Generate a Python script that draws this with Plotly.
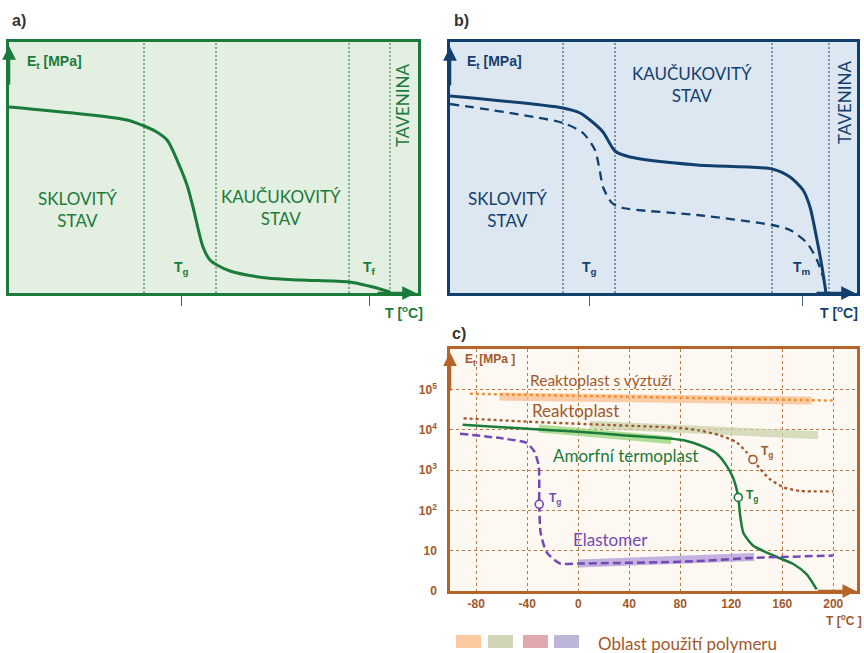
import plotly.graph_objects as go

W, H = 864, 653          # reference pixel grid used for placing things
H_LAYOUT = 660           # figure height in layout

# ---------------- Panel a (schematic, relative units) ----------------
a_T = [0, 118, 135, 146, 158, 171, 178, 184, 194, 201, 208, 221, 258, 291, 340, 360, 371, 381]
a_E = [186, 173, 167, 162, 153, 126, 108, 86, 46, 33, 28, 22, 15, 13, 11, 7, 4, 1]
a_bounds = [135, 207, 340, 381]
a_ticks = [172, 360]
a_tick_labels = ["T<sub>g</sub>", "T<sub>f</sub>"]

# ---------------- Panel b (schematic, relative units) ----------------
b_T_solid = [0, 113, 130, 140, 153, 165, 180, 247, 322, 340, 353, 360, 367, 372, 376]
b_E_solid = [197, 185, 180, 173, 161, 142, 136, 128, 124, 116, 103, 86, 53, 26, 0]
b_T_dash = [0, 113, 133, 145, 150, 153, 162, 173, 247, 322, 340, 357, 367, 374]
b_E_dash = [189, 170, 160, 143, 121, 106, 90, 85, 78, 68, 63, 50, 33, 13]
b_bounds = [113, 165, 322, 379]
b_ticks = [139, 352]
b_tick_labels = ["T<sub>g</sub>", "T<sub>m</sub>"]

# ---------------- Panel c (T in degC, E in MPa) ----------------
c_xticks = [-80, -40, 0, 40, 80, 120, 160, 200]
c_xticktext = ["-80", "-40", "0", "40", "80", "120", "160", "200"]
c_yticks = [1, 10, 100, 1000, 10000, 100000]
c_yticktext = ["0", "10", "10<sup>2</sup>", "10<sup>3</sup>", "10<sup>4</sup>", "10<sup>5</sup>"]

rv_T = [-85, 200]                 # Reaktoplast s vyztuzi
rv_E = [77600, 52500]
rv_band_T = [-62, 183]
rv_band_E = [66100, 52500]

r_T = [-90, -40, 20, 80, 95, 111, 124, 132, 137, 142.5, 150, 161, 174, 200]   # Reaktoplast
r_E = [19100, 15800, 13200, 11000, 9550, 7240, 4900, 2750, 1820, 1070, 603, 372, 302, 295]
r_band_T = [9, 188]
r_band_E = [13200, 7240]

am_T = [-90.7, -40, 0, 33, 72, 85, 95, 108, 116, 121.5, 125.5, 127, 129.5, 137, 153, 168.6, 179, 187]
am_E = [13200, 10500, 8910, 7410, 6030, 5250, 4170, 2630, 1320, 631, 209, 72.4, 27.5, 13.5, 7.59, 4.68, 2.63, 1.10]
am_band_T = [-31, 73]
am_band_E = [10700, 5500]

el_T = [-92.8, -58.8, -40.5, -34.5, -31, -30.6, -29.5, -24.8, -14.3, 0, 85, 137, 200]
el_E = [7940, 6030, 4680, 2880, 1260, 141, 27.5, 9.12, 4.8, 4.8, 5.37, 6.61, 7.59]
el_band_T = [0, 138]
el_band_E = [4.79, 6.92]

tg_T = [137, 125.5, -30.6]
tg_E = [1820, 209, 141]

legend_colors = ["#fac9a0", "#cfd5b6", "#dfa9ae", "#bdb6d8"]

# ---------------- colours ----------------
GA, GA_FILL = "#1a7b3a", "#e2efe1"
BB, BB_FILL = "#12406e", "#dde7f1"
BR, BR_FILL = "#b5652a", "#fdf9f2"
TXT_BR = "#a3572b"
GREEN_C = "#1a7b3a"
PURPLE = "#7448b4"
ORANGE = "#f0913a"
BROWN_DOT = "#a0582e"

SANS = "Lato"
BOLD = "Liberation Sans"


def px(x):
    return x / W


def py(y):
    return 1 - y / H


fig = go.Figure()

# ---- panel a traces
fig.add_trace(go.Scatter(x=a_T, y=a_E, mode="lines", line=dict(color=GA, width=3, shape="spline", smoothing=0.8),
                         xaxis="x", yaxis="y", hoverinfo="skip"))
# ---- panel b traces
fig.add_trace(go.Scatter(x=b_T_solid, y=b_E_solid, mode="lines",
                         line=dict(color=BB, width=3, shape="spline", smoothing=0.7),
                         xaxis="x2", yaxis="y2", hoverinfo="skip"))
fig.add_trace(go.Scatter(x=b_T_dash, y=b_E_dash, mode="lines",
                         line=dict(color=BB, width=2.3, dash="9px,6px", shape="spline", smoothing=0.7),
                         xaxis="x2", yaxis="y2", hoverinfo="skip"))

# ---- panel c bands
for bx, by, col in [(rv_band_T, rv_band_E, "rgba(249,190,140,0.75)"),
                    (r_band_T, r_band_E, "rgba(200,210,170,0.75)"),
                    (am_band_T, am_band_E, "rgba(150,212,120,0.75)"),
                    (el_band_T, el_band_E, "rgba(180,160,218,0.8)")]:
    fig.add_trace(go.Scatter(x=bx, y=by, mode="lines", line=dict(color=col, width=8),
                             xaxis="x3", yaxis="y3", hoverinfo="skip"))
# ---- panel c lines
fig.add_trace(go.Scatter(x=rv_T, y=rv_E, mode="lines", line=dict(color=ORANGE, width=2.5, dash="dot"),
                         xaxis="x3", yaxis="y3", hoverinfo="skip"))
fig.add_trace(go.Scatter(x=r_T, y=r_E, mode="lines",
                         line=dict(color=BROWN_DOT, width=2.3, dash="dot", shape="spline", smoothing=0.6),
                         xaxis="x3", yaxis="y3", hoverinfo="skip"))
fig.add_trace(go.Scatter(x=am_T, y=am_E, mode="lines",
                         line=dict(color=GREEN_C, width=2.5, shape="spline", smoothing=0.6),
                         xaxis="x3", yaxis="y3", hoverinfo="skip"))
fig.add_trace(go.Scatter(x=el_T, y=el_E, mode="lines",
                         line=dict(color=PURPLE, width=2.5, dash="8px,4px", shape="spline", smoothing=0.6),
                         xaxis="x3", yaxis="y3", hoverinfo="skip"))
fig.add_trace(go.Scatter(x=tg_T, y=tg_E, mode="markers",
                         marker=dict(size=8, color="#fdf9f2", symbol="circle",
                                     line=dict(color=[BROWN_DOT, GREEN_C, PURPLE], width=1.6)),
                         xaxis="x3", yaxis="y3", hoverinfo="skip"))

shapes = []
annotations = []

# panel fills
shapes.append(dict(type="rect", xref="x", yref="y", x0=0, x1=409, y0=0, y1=251,
                   fillcolor=GA_FILL, line=dict(width=0), layer="below"))
shapes.append(dict(type="rect", xref="x2", yref="y2", x0=0, x1=407, y0=0, y1=251,
                   fillcolor=BB_FILL, line=dict(width=0), layer="below"))
shapes.append(dict(type="rect", xref="x3 domain", yref="y3 domain", x0=0, x1=1, y0=0, y1=1,
                   fillcolor=BR_FILL, line=dict(width=0), layer="below"))

for xb in a_bounds:
    shapes.append(dict(type="line", xref="x", yref="y", x0=xb, x1=xb, y0=0, y1=251,
                       line=dict(color=GA, width=1, dash="2px,2px")))
for xb in b_bounds:
    shapes.append(dict(type="line", xref="x2", yref="y2", x0=xb, x1=xb, y0=0, y1=251,
                       line=dict(color=BB, width=1, dash="2px,2px")))

# legend swatches
sw_x = [456, 488, 523, 554]
for x0, col in zip(sw_x, legend_colors):
    shapes.append(dict(type="rect", xref="paper", yref="paper", x0=px(x0), x1=px(x0 + 25),
                       y0=py(648), y1=py(635), fillcolor=col, line=dict(width=0)))


def arrow(xref, yref, x, y, ax, ay, color):
    annotations.append(dict(xref=xref, yref=yref, x=x, y=y, ax=ax, ay=ay, text="", showarrow=True,
                            arrowhead=2, arrowsize=1.1, arrowwidth=2.5, arrowcolor=color))


arrow("x", "y", 0, 247, 0, 40, GA)
arrow("x", "y", 407, 0, -40, 0, GA)
arrow("x2", "y2", 0, 246, 0, 40, BB)
arrow("x2", "y2", 405, 0, -40, 0, BB)
arrow("x3", "y3", -100.6, 5.92, 0, 40, BR)
arrow("x3", "y3", 218, 0, -40, 0, BR)


def text(xref, yref, x, y, t, size, color, family=SANS, xanchor="center", yanchor="middle", angle=0):
    annotations.append(dict(xref=xref, yref=yref, x=x, y=y, text=t, showarrow=False,
                            font=dict(size=size, color=color, family=family),
                            xanchor=xanchor, yanchor=yanchor, textangle=angle))


# panel labels
text("paper", "paper", px(10), py(20), "<b>a)</b>", 16, "#333333", BOLD, "left")
text("paper", "paper", px(452), py(20), "<b>b)</b>", 16, "#333333", BOLD, "left")
text("paper", "paper", px(450), py(333), "<b>c)</b>", 16, "#333333", BOLD, "left")

# panel a texts
text("x", "y", 16, 231, "<b>E<sub>t</sub> [MPa]</b>", 14, GA, BOLD, "left")
text("x", "y", 68, 84, "SKLOVITÝ<br>STAV", 17, GA)
text("x", "y", 272, 86, "KAUČUKOVITÝ<br>STAV", 17, GA)
text("x", "y", 393, 187, "TAVENINA", 17, GA, angle=-90)
for xt, lab in zip(a_ticks, a_tick_labels):
    text("x", "y", xt, 25, "<b>" + lab + "</b>", 14, GA, BOLD)
text("paper", "paper", px(404), py(312), "<b>T [<sup>o</sup>C]</b>", 14, GA, BOLD)

# panel b texts
text("x2", "y2", 15, 231, "<b>E<sub>t</sub> [MPa]</b>", 14, BB, BOLD, "left")
text("x2", "y2", 57, 84, "SKLOVITÝ<br>STAV", 17, BB)
text("x2", "y2", 242, 209, "KAUČUKOVITÝ<br>STAV", 17, BB)
text("x2", "y2", 394, 190, "TAVENINA", 17, BB, angle=-90)
for xt, lab in zip(b_ticks, b_tick_labels):
    text("x2", "y2", xt, 25, "<b>" + lab + "</b>", 14, BB, BOLD)
text("paper", "paper", px(839), py(312), "<b>T [<sup>o</sup>C]</b>", 14, BB, BOLD)

# panel c texts (y in log10 units)
text("x3", "y3", -90.4, 5.72, "<b>E<sub>t</sub> [MPa ]</b>", 12, TXT_BR, BOLD, "left")
text("x3", "y3", -39.5, 5.22, "Reaktoplast s výztuží", 15.5, TXT_BR, SANS, "left")
text("x3", "y3", -38, 4.47, "Reaktoplast", 17, TXT_BR, SANS, "left")
text("x3", "y3", -21.4, 3.35, "Amorfní termoplast", 17, GREEN_C, SANS, "left")
text("x3", "y3", -6, 1.28, "Elastomer", 17, PURPLE, SANS, "left")
text("x3", "y3", 148, 3.44, "<b>T<sub>g</sub></b>", 12, BROWN_DOT, BOLD)
text("x3", "y3", 136, 2.36, "<b>T<sub>g</sub></b>", 12, GREEN_C, BOLD)
text("x3", "y3", -18.3, 2.27, "<b>T<sub>g</sub></b>", 12, PURPLE, BOLD)
text("paper", "paper", px(844), py(620), "<b>T [<sup>o</sup>C ]</b>", 12, TXT_BR, BOLD)
text("paper", "paper", px(596), py(643), "Oblast použití polymeru", 17, TXT_BR, SANS, "left")

ax_common = dict(showgrid=False, zeroline=False, mirror=True, showline=True, fixedrange=True)

fig.update_layout(
    width=W, height=H_LAYOUT, margin=dict(l=0, r=0, t=0, b=0),
    paper_bgcolor="white", plot_bgcolor="rgba(0,0,0,0)", showlegend=False,
    xaxis=dict(domain=[px(9), px(418)], range=[0, 409], linecolor=GA, linewidth=2.5,
               tickvals=a_ticks, ticks="outside", ticklen=10, tickcolor=GA, tickwidth=1,
               showticklabels=False, anchor="y", **ax_common),
    yaxis=dict(domain=[py(293), py(42)], range=[0, 251], linecolor=GA, linewidth=2.5,
               showticklabels=False, ticks="", anchor="x", **ax_common),
    xaxis2=dict(domain=[px(450), px(857)], range=[0, 407], linecolor=BB, linewidth=2.5,
                tickvals=b_ticks, ticks="outside", ticklen=10, tickcolor="#4a6a8a", tickwidth=1,
                showticklabels=False, anchor="y2", **ax_common),
    yaxis2=dict(domain=[py(293), py(42)], range=[0, 251], linecolor=BB, linewidth=2.5,
                showticklabels=False, ticks="", anchor="x2", **ax_common),
    xaxis3=dict(domain=[px(450), px(857)], range=[-100.6, 218.6], linecolor=BR, linewidth=2.5,
                mirror=True, showline=True, zeroline=False, fixedrange=True,
                tickvals=c_xticks, ticktext=["<b>" + t + "</b>" for t in c_xticktext], ticks="",
                showgrid=True, gridcolor="#b87a4a", gridwidth=1.2,
                griddash="dot", tickfont=dict(family=BOLD, size=12, color=TXT_BR),
                ticklabelstandoff=0, anchor="y3"),
    yaxis3=dict(domain=[py(591), py(349)], type="log", range=[0, 6], linecolor=BR, linewidth=2.5,
                mirror=True, showline=True, zeroline=False, fixedrange=True,
                tickvals=c_yticks, ticktext=["<b>" + t + "</b>" for t in c_yticktext], ticks="",
                showgrid=True, gridcolor="#b87a4a", gridwidth=1.2, griddash="dot",
                tickfont=dict(family=BOLD, size=12, color=TXT_BR), ticklabelstandoff=8, anchor="x3"),
    shapes=shapes, annotations=annotations,
)

fig.write_html("out.html", config={"displayModeBar": False},
               post_script="document.body.style.margin='0';document.body.style.padding='0';")
